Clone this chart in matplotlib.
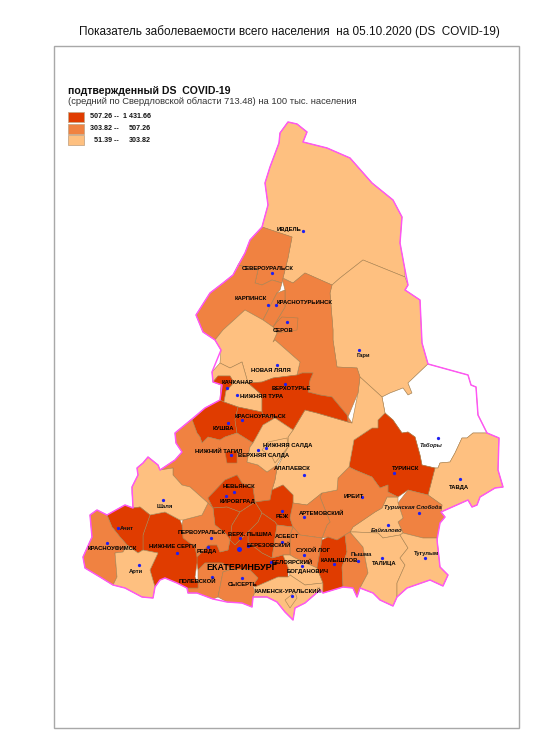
#!/usr/bin/env python
# Incidence map of Sverdlovsk region, districts outlined in image pixel units
import matplotlib
matplotlib.use('Agg')
import matplotlib.pyplot as plt
from matplotlib.patches import Polygon, Rectangle

plt.rcParams['font.family'] = ['Liberation Sans', 'DejaVu Sans']

title = 'Показатель заболеваемости всего населения  на 05.10.2020 (DS  COVID-19)'
legend_title = 'подтвержденный DS  COVID-19'
legend_sub = '(средний по Свердловской области 713.48) на 100 тыс. населения'
legend_low = ['507.26 --', '303.82 --', '51.39 --']
legend_high = ['1 431.66', '507.26', '303.82']

colors = {'hi': '#E03C00', 'mid': '#F08241', 'lo': '#FEC080', 'none': '#FFFFFF'}
legend_classes = ['hi', 'mid', 'lo']

# district outlines
ivdel = [(262,227),(268,205),(265,183),(270,167),(279,143),(280,133),(288,122),(297,124),(307,132),(303,142),(327,148),(350,158),(372,183),(393,200),(402,217),(400,243),(405,270),(405,277),(363,260),(340,278),(332,285),(305,273),(293,283),(283,278),(288,258),(292,237)]
gari = [(405,277),(408,285),(405,290),(420,300),(422,343),(428,364),(408,383),(412,393),(408,395),(403,388),(390,393),(382,397),(360,377),(357,368),(337,367),(333,340),(333,330),(330,293),(332,285),(340,278),(363,260)]
tabory = [(428,364),(468,375),(471,385),(476,387),(478,415),(487,433),(473,433),(467,438),(462,438),(455,453),(450,462),(440,463),(438,468),(435,468),(422,465),(420,455),(415,437),(408,432),(402,433),(393,420),(385,413),(382,397),(390,393),(403,388),(408,395),(412,393),(408,383)]
tavda = [(487,433),(499,438),(498,470),(503,487),(495,488),(480,497),(477,505),(472,507),(468,500),(441,512),(442,505),(428,495),(435,468),(438,468),(440,463),(450,462),(455,453),(462,438),(467,438),(473,433)]
turinsk = [(385,413),(393,420),(402,433),(408,432),(415,437),(420,455),(422,465),(435,468),(428,495),(408,490),(398,497),(388,492),(388,485),(380,488),(372,477),(355,470),(349,467),(354,440),(372,428),(378,428),(378,420)]
sloboda = [(408,490),(428,495),(442,505),(441,512),(445,517),(440,523),(437,538),(423,538),(403,533),(398,522),(403,518),(398,503)]
baikalovo = [(387,497),(398,497),(398,503),(403,518),(398,522),(403,533),(400,535),(383,538),(378,533),(355,532),(350,532),(353,527),(375,512),(382,508)]
irbit = [(349,467),(355,470),(372,477),(380,488),(388,485),(388,492),(398,497),(387,497),(382,508),(375,512),(353,527),(350,532),(345,535),(337,540),(328,537),(322,538),(327,525),(330,522),(320,497),(322,493),(337,490),(338,478)]
alapaevsk = [(360,377),(382,397),(385,413),(378,420),(378,428),(372,428),(354,440),(349,467),(338,478),(337,490),(322,493),(307,505),(293,503),(293,495),(283,485),(272,490),(275,480),(277,468),(288,447),(288,437),(293,430),(305,410),(317,413),(348,422),(352,423),(358,393)]
serov_area = [(282,278),(293,283),(305,273),(332,285),(330,293),(333,330),(333,340),(337,367),(357,368),(360,377),(358,393),(348,417),(352,423),(348,422),(347,415),(337,403),(332,397),(320,395),(308,392),(310,380),(313,373),(302,373),(297,375),(300,362),(275,340),(273,342),(277,333),(273,327),(285,307),(285,290)]
severouralsk = [(262,227),(292,237),(288,258),(283,278),(282,283),(272,280),(262,285),(255,283),(258,270),(238,265),(245,253),(250,240)]
karpinsk = [(238,265),(258,270),(255,283),(262,285),(272,280),(282,283),(280,290),(277,293),(263,320),(245,310),(223,330),(215,340),(203,332),(196,315),(210,293),(223,283),(233,275)]
krasnoturinsk = [(277,293),(285,290),(285,307),(273,327),(263,320)]
serov = [(282,317),(298,318),(297,330),(277,333),(273,327),(277,322)]
lyalya = [(215,340),(223,330),(245,310),(263,320),(273,327),(277,333),(273,342),(275,340),(300,362),(297,375),(273,378),(262,382),(248,383),(242,362),(230,368),(220,363),(221,350)]
kachkanar = [(212,372),(220,363),(230,368),(242,362),(248,383),(233,381),(230,376),(218,376),(213,382)]
kachkanar_city = [(213,382),(218,376),(230,376),(233,381),(232,385),(226,391),(224,402),(220,400),(221,385)]
nizh_tura = [(232,385),(233,381),(248,383),(262,395),(262,412),(238,407),(224,402),(226,391)]
verkhoturye = [(248,383),(262,382),(273,378),(297,375),(302,373),(313,373),(310,380),(308,392),(320,395),(332,397),(337,403),(347,415),(348,422),(317,413),(305,410),(293,430),(275,418),(263,415),(262,412),(262,395)]
kushva = [(220,400),(224,402),(238,407),(235,420),(237,433),(225,437),(220,440),(208,437),(202,443),(200,437),(197,433),(192,420),(205,408)]
krasnouralsk = [(238,407),(262,412),(263,415),(275,418),(263,425),(253,443),(237,433),(235,420)]
salda = [(263,425),(275,418),(293,430),(288,437),(288,447),(277,465),(267,472),(258,465),(247,462),(250,447),(253,443)]
nizh_salda = [(268,442),(287,438),(288,447),(275,463),(272,457),(262,450)]
tagil = [(192,419),(197,433),(200,437),(202,443),(208,437),(220,440),(225,437),(237,433),(253,443),(250,447),(247,462),(258,465),(267,472),(277,465),(277,468),(275,480),(272,490),(270,500),(255,502),(253,488),(242,483),(237,475),(225,480),(208,498),(213,508),(208,503),(190,487),(182,485),(173,475),(173,468),(160,470),(175,460),(182,452),(176,443),(175,433)]
tagil_city = [(225,452),(237,450),(237,463),(227,463)]
nevyansk = [(225,480),(237,475),(242,483),(253,488),(255,502),(240,512),(227,507),(213,508),(208,498)]
rezh = [(283,485),(293,495),(293,505),(290,518),(293,527),(277,525),(275,522),(262,513),(255,502),(270,500),(272,490)]
kirovgrad = [(213,508),(227,507),(240,512),(232,525),(230,540),(228,537),(225,533),(215,525)]
verkh_pyshma = [(240,512),(255,502),(262,513),(258,522),(248,532),(235,545),(230,540),(232,525)]
beryozovsky = [(258,522),(262,513),(275,522),(277,525),(272,558),(262,553),(248,542),(248,532)]
ekaterinburg = [(197,557),(202,552),(208,545),(217,545),(220,552),(228,550),(230,540),(235,545),(248,532),(248,542),(262,553),(272,558),(283,555),(288,567),(288,577),(278,577),(255,587),(253,585),(258,578),(250,570),(232,569),(222,563),(205,563),(198,570),(197,563)]
pervouralsk = [(183,520),(202,515),(208,503),(213,508),(215,525),(225,533),(228,537),(230,540),(228,550),(220,552),(217,545),(208,545),(202,552),(197,557),(195,547),(183,538),(182,525)]
polevskoy = [(198,570),(205,563),(222,563),(232,569),(223,572),(218,597),(213,599),(197,593),(188,593),(187,588),(198,588),(198,583)]
sysert = [(232,569),(250,570),(258,578),(253,585),(255,592),(253,597),(252,607),(242,603),(227,602),(218,597),(223,572)]
nizh_sergi = [(143,535),(150,515),(165,512),(180,520),(182,525),(183,538),(195,547),(197,557),(197,563),(195,577),(198,583),(198,588),(187,588),(177,583),(165,578),(160,580),(155,587),(150,570),(158,553),(143,550)]
shalya = [(160,470),(158,465),(148,457),(143,463),(137,468),(138,475),(132,487),(132,493),(133,508),(140,507),(150,515),(165,512),(180,520),(183,520),(202,515),(208,503),(190,487),(182,485),(173,475),(173,468)]
achit = [(107,515),(125,505),(133,508),(140,507),(150,515),(143,535),(143,550),(138,553),(127,545),(120,537),(112,527)]
krasnoufimsk = [(107,515),(97,510),(90,515),(92,537),(83,557),(85,568),(100,577),(113,585),(117,577),(115,553),(123,552),(127,545),(120,537),(112,527)]
arti = [(115,553),(123,552),(127,545),(138,553),(143,550),(158,553),(150,570),(155,587),(153,598),(142,597),(125,588),(113,585),(117,577)]
artemovsky = [(293,503),(307,505),(322,493),(320,497),(330,522),(327,525),(322,538),(300,535),(293,527),(290,518)]
sukhoi_log = [(293,527),(300,535),(322,538),(322,540),(317,568),(295,558),(290,555),(290,535)]
asbest = [(277,525),(293,527),(290,535),(290,555),(283,555),(272,558)]
bogdanovich = [(283,555),(290,555),(295,558),(317,568),(323,583),(305,585),(290,575),(288,567)]
kamensk = [(255,587),(278,577),(288,577),(290,575),(305,585),(323,583),(323,593),(320,590),(305,603),(295,608),(293,620),(285,612),(277,602),(267,597),(253,597),(255,592)]
kamensk_city = [(285,600),(295,592),(297,598),(290,608)]
kamyshlov = [(322,540),(328,537),(337,540),(345,535),(347,552),(342,567),(343,587),(323,593),(323,583),(317,568)]
pyshma = [(345,535),(350,532),(363,547),(368,573),(360,588),(357,597),(353,588),(343,587),(342,567),(347,552)]
talitsa = [(350,532),(355,532),(378,533),(383,538),(400,535),(408,548),(400,558),(405,565),(397,583),(397,597),(393,606),(380,600),(373,593),(360,588),(368,573),(363,547)]
tugulym = [(400,535),(403,533),(423,538),(437,538),(440,567),(448,575),(443,586),(430,580),(407,588),(397,597),(397,583),(405,565),(400,558),(408,548)]

districts = [
    (ivdel, 'lo'), (gari, 'lo'), (tabory, 'none'), (tavda, 'lo'), (turinsk, 'hi'),
    (sloboda, 'mid'), (baikalovo, 'lo'), (irbit, 'mid'), (alapaevsk, 'lo'),
    (serov_area, 'mid'), (severouralsk, 'mid'), (karpinsk, 'mid'), (krasnoturinsk, 'mid'),
    (serov, 'mid'), (lyalya, 'lo'), (kachkanar, 'lo'), (kachkanar_city, 'hi'),
    (nizh_tura, 'lo'), (verkhoturye, 'hi'), (kushva, 'hi'), (krasnouralsk, 'hi'),
    (tagil, 'mid'), (salda, 'lo'), (nizh_salda, 'lo'), (tagil_city, 'hi'), (nevyansk, 'hi'),
    (rezh, 'hi'), (kirovgrad, 'hi'), (verkh_pyshma, 'hi'), (beryozovsky, 'hi'),
    (ekaterinburg, 'hi'), (pervouralsk, 'mid'), (polevskoy, 'mid'), (sysert, 'mid'),
    (nizh_sergi, 'hi'), (shalya, 'lo'), (achit, 'hi'), (krasnoufimsk, 'mid'), (arti, 'lo'),
    (artemovsky, 'mid'), (sukhoi_log, 'mid'), (asbest, 'mid'), (bogdanovich, 'lo'),
    (kamensk, 'lo'), (kamensk_city, 'lo'), (kamyshlov, 'hi'), (pyshma, 'mid'),
    (talitsa, 'lo'), (tugulym, 'lo'),
]

border = [(288,122),(297,124),(307,132),(303,142),(327,148),(350,158),(372,183),(393,200),(402,217),(400,243),(405,270),(408,285),(405,290),(420,300),(422,343),(428,364),(468,375),(471,385),(476,387),(478,415),(487,433),(499,438),(498,470),(503,487),(495,488),(480,497),(477,505),(472,507),(468,500),(441,512),(445,517),(440,523),(437,540),(440,567),(448,575),(443,586),(430,580),(407,588),(397,597),(393,606),(380,600),(373,593),(360,588),(357,597),(353,588),(343,587),(323,593),(320,590),(305,603),(295,608),(293,620),(285,612),(277,602),(267,597),(253,597),(252,607),(242,603),(227,602),(213,599),(197,593),(188,593),(187,588),(177,583),(165,578),(160,580),(155,587),(153,598),(142,597),(125,588),(113,585),(100,577),(85,568),(83,557),(92,537),(90,515),(97,510),(107,515),(125,505),(133,508),(132,487),(138,475),(137,468),(143,463),(148,457),(158,465),(160,470),(175,460),(182,452),(176,443),(175,433),(192,419),(205,408),(220,400),(222,385),(213,382),(212,372),(221,350),(215,340),(203,332),(196,315),(210,293),(223,283),(233,275),(245,253),(250,240),(262,227),(268,205),(265,183),(270,167),(279,143),(280,133)]

# towns
town_x = [303,272,268,276,287,359,277,285,227,237,228,242,258,266,231,304,234,226,362,394,438,460,419,388,382,425,358,334,304,282,304,282,271,302,292,242,212,248,240,208,211,177,139,107,118,163]
town_y = [231,273,305,305,322,350,365,384,388,395,423,420,450,448,455,475,492,496,497,473,438,479,513,525,558,558,561,564,555,542,517,511,562,566,596,578,577,546,538,547,538,553,565,543,528,500]
capital_x = [239]
capital_y = [549]

caps_names = ['ИВДЕЛЬ','СЕВЕРОУРАЛЬСК','КАРПИНСК','КРАСНОТУРЬИНСК','СЕРОВ','НОВАЯ ЛЯЛЯ','ВЕРХОТУРЬЕ','КАЧКАНАР','НИЖНЯЯ ТУРА','КУШВА','КРАСНОУРАЛЬСК','НИЖНЯЯ САЛДА','ВЕРХНЯЯ САЛДА','НИЖНИЙ ТАГИЛ','АЛАПАЕВСК','НЕВЬЯНСК','КИРОВГРАД','ИРБИТ','ТУРИНСК','ТАВДА','ТАЛИЦА','КАМЫШЛОВ','СУХОЙ ЛОГ','АСБЕСТ','АРТЕМОВСКИЙ','РЕЖ','БЕЛОЯРСКИЙ','БОГДАНОВИЧ','КАМЕНСК-УРАЛЬСКИЙ','СЫСЕРТЬ','ПОЛЕВСКОЙ','БЕРЕЗОВСКИЙ','ВЕРХ. ПЫШМА','РЕВДА','ПЕРВОУРАЛЬСК','НИЖНИЕ СЕРГИ','КРАСНОУФИМСК']
caps_x = [289,268,251,305,283,271,291,237,262,223,260,288,264,219,292,239,238,354,406,459,384,339,313,287,322,282,292,308,288,243,197,269,250,207,202,173,112]
caps_y = [230,268,298,302,330,370,389,382,396,428,417,446,456,451,469,486,502,496,469,487,564,560,550,537,513,517,562,571,591,584,581,545,535,552,533,547,548]
small_names = ['Гари','Пышма','Тугулым','Арти','Ачит','Шаля']
small_x = [363,361,427,136,127,165]
small_y = [356,555,553,572,528,506]
italic_names = ['Таборы','Туринская Слобода','Байкалово']
italic_x = [431,413,387]
italic_y = [445,507,531]

fig = plt.figure(figsize=(5.5, 7.34), dpi=100)
ax = fig.add_axes([0, 0, 1, 1])
ax.set_xlim(0, 550)
ax.set_ylim(734, 0)
ax.axis('off')

ax.add_patch(Rectangle((54, 46), 465, 682, fill=False, ec='#a8a8a8', lw=1.0))
ax.text(289, 32, title, fontsize=8.45, ha='center', va='center', color='#111111')

for outline, cls in districts:
    ax.add_patch(Polygon(outline, closed=True, fc=colors[cls], ec='#A8814F', lw=0.4, joinstyle='round'))
ax.add_patch(Polygon(border, closed=True, fill=False, ec='#FF55F5', lw=1.05, joinstyle='round'))

ax.scatter(town_x, town_y, s=5.5, c='#2020F0', lw=0, zorder=4)
ax.scatter(capital_x, capital_y, s=13, c='#2020F0', lw=0, zorder=4)

for name, x, y in zip(caps_names, caps_x, caps_y):
    ax.text(x, y, name, fontsize=4.2, fontweight='bold', ha='center', va='center', color='black', zorder=5)
for name, x, y in zip(small_names, small_x, small_y):
    ax.text(x, y, name, fontsize=4.2, fontweight='bold', ha='center', va='center', color='#111111', zorder=5)
for name, x, y in zip(italic_names, italic_x, italic_y):
    ax.text(x, y, name, fontsize=4.2, fontweight='bold', style='italic', ha='center', va='center', color='#111111', zorder=5)
ax.text(242, 567, 'ЕКАТЕРИНБУРГ', fontsize=6.4, fontweight='bold', ha='center', va='center', color='black', zorder=5)

# legend
ax.text(68, 91, legend_title, fontsize=7.6, fontweight='bold', ha='left', va='center', color='#111111')
ax.text(68, 102, legend_sub, fontsize=6.75, ha='left', va='center', color='#333333')
for i, cls in enumerate(legend_classes):
    y = 112 + i * 11.7
    ax.add_patch(Rectangle((68, y), 16, 10, fc=colors[cls], ec='#C8A888', lw=0.6))
    ax.text(119, y + 5, legend_low[i], fontsize=5.1, fontweight='bold', ha='right', va='center', color='#111111')
    ax.text(151, y + 5, legend_high[i], fontsize=5.1, fontweight='bold', ha='right', va='center', color='#111111')

fig.savefig('out.png', dpi=100)
